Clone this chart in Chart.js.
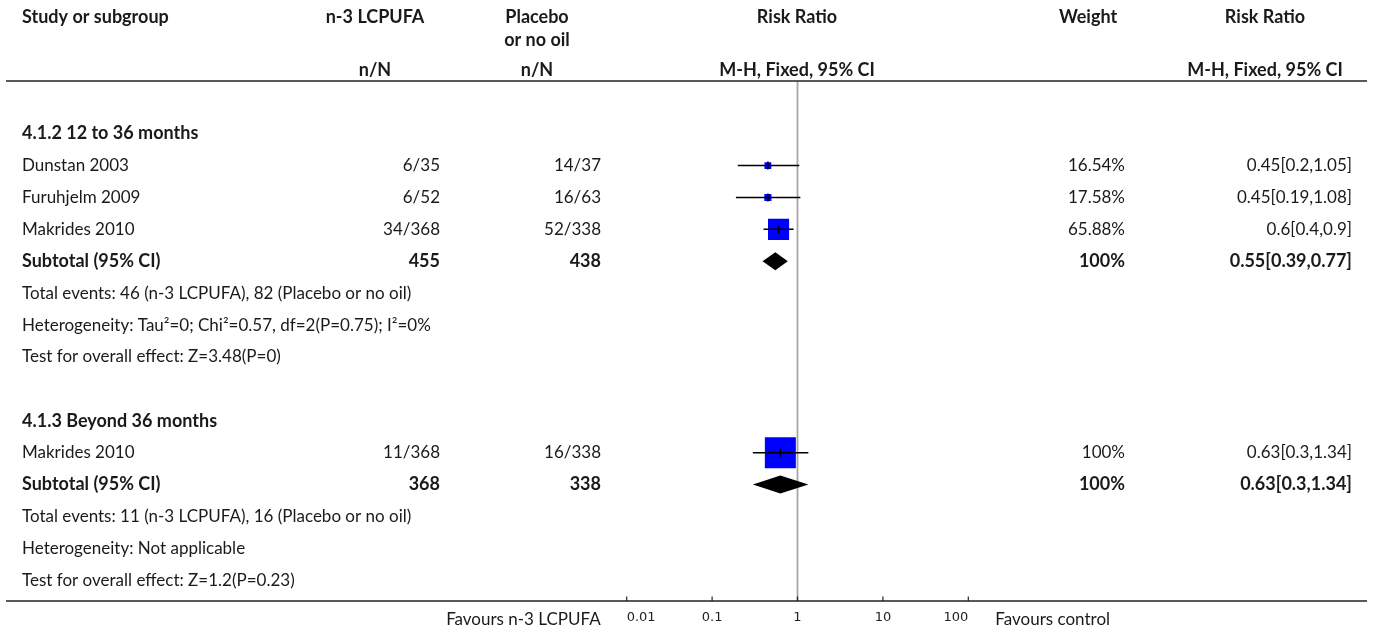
<!DOCTYPE html>
<html>
<head>
<meta charset="utf-8">
<title>n-3 LCPUFA vs placebo — Risk Ratio</title>
<script src="https://cdn.jsdelivr.net/npm/chart.js@4.4.1/dist/chart.umd.min.js"></script>
<style>
  html, body { margin: 0; padding: 0; background: #ffffff; }
  #wrap { width: 1375px; height: 633px; }
</style>
</head>
<body>
<div id="wrap"><canvas id="forest" width="1375" height="633"></canvas></div>
<script>
// ---- data ----
const groupTitles = ['4.1.2 12 to 36 months', '4.1.3 Beyond 36 months'];

const studyNames   = ['Dunstan 2003', 'Furuhjelm 2009', 'Makrides 2010', 'Makrides 2010'];
const studyGroup   = [0, 0, 0, 1];
const expEvents    = [6, 6, 34, 11];
const expTotal     = [35, 52, 368, 368];
const ctrlEvents   = [14, 16, 52, 16];
const ctrlTotal    = [37, 63, 338, 338];
const studyRR      = [0.45, 0.45, 0.6, 0.63];
const studyLow     = [0.2, 0.19, 0.4, 0.3];
const studyHigh    = [1.05, 1.08, 0.9, 1.34];
const studyWeight  = [16.54, 17.58, 65.88, 100];

const subExpTotal  = [455, 368];
const subCtrlTotal = [438, 338];
const subRR        = [0.55, 0.63];
const subLow       = [0.39, 0.3];
const subHigh      = [0.77, 1.34];
const subWeight    = [100, 100];

const totalEventsText   = ['Total events: 46 (n-3 LCPUFA), 82 (Placebo or no oil)',
                           'Total events: 11 (n-3 LCPUFA), 16 (Placebo or no oil)'];
const heterogeneityText = ['Heterogeneity: Tau\u00B2=0; Chi\u00B2=0.57, df=2(P=0.75); I\u00B2=0%',
                           'Heterogeneity: Not applicable'];
const overallEffectText = ['Test for overall effect: Z=3.48(P=0)',
                           'Test for overall effect: Z=1.2(P=0.23)'];

const tickValues = [0.01, 0.1, 1, 10, 100];
const tickLabels = ['0.01', '0.1', '1', '10', '100'];
const favoursLeft  = 'Favours n-3 LCPUFA';
const favoursRight = 'Favours control';

// ---- row layout (one row per line of the table) ----
const rows = [];
let r = 0;
for (let g = 0; g < groupTitles.length; g++) {
  rows.push({ kind: 'group', g, row: r++ });
  studyNames.forEach((name, i) => {
    if (studyGroup[i] === g) rows.push({ kind: 'study', i, row: r++ });
  });
  rows.push({ kind: 'subtotal', g, row: r++ });
  rows.push({ kind: 'note', text: totalEventsText[g], row: r++ });
  rows.push({ kind: 'note', text: heterogeneityText[g], row: r++ });
  rows.push({ kind: 'note', text: overallEffectText[g], row: r++ });
  r++; // spacer
}
const studyRow = studyNames.map((_, i) => rows.find(o => o.kind === 'study' && o.i === i).row);
const subRow = groupTitles.map((_, g) => rows.find(o => o.kind === 'subtotal' && o.g === g).row);

const fmtPct = w => w + '%';
const fmtCI = (e, lo, hi) => e + '[' + lo + ',' + hi + ']';

// ---- styling ----
const FONT = 'Lato, "Noto Sans", sans-serif';
const SIZE = 17, BOLD_SIZE = 18;
const TEXT = '#1a1a1a';
const COL = { name: 22, exp: 440, expHead: 375, ctrl: 601, ctrlHead: 537,
              plot: 797, weight: 1125, weightHead: 1088, ci: 1352, ciHead: 1265 };
const LINE_L = 6, LINE_R = 1367;
const AXIS_HEIGHT = 32;
const boxSide = w => 2 + 0.29 * w;   // square side in px, grows with weight

const ciDatasets = studyNames.map((_, i) => ({
  type: 'line',
  label: 'ci' + i,
  data: [{ x: studyLow[i], y: studyRow[i] }, { x: studyHigh[i], y: studyRow[i] }],
  borderColor: '#000000',
  borderWidth: 1.5,
  pointRadius: 0,
  showLine: true,
  order: 1
}));

const config = {
  type: 'scatter',
  data: {
    datasets: [
      {
        label: 'estimate',
        data: studyNames.map((_, i) => ({ x: studyRR[i], y: studyRow[i] })),
        pointStyle: 'line',
        rotation: 90,
        pointRadius: 4,
        pointHoverRadius: 4,
        borderColor: '#000000',
        borderWidth: 1.5,
        order: 0
      },
      ...ciDatasets,
      {
        label: 'weight',
        data: studyNames.map((_, i) => ({ x: studyRR[i], y: studyRow[i] })),
        pointStyle: 'rect',
        pointRadius: studyWeight.map(w => boxSide(w) / Math.SQRT2),
        pointHoverRadius: studyWeight.map(w => boxSide(w) / Math.SQRT2),
        backgroundColor: '#0000ff',
        borderWidth: 0,
        pointBorderWidth: 0,
        order: 2
      }
    ]
  },
  options: {
    responsive: false,
    animation: false,
    events: [],
    layout: { padding: { left: 626.7, right: 406.7, top: 81, bottom: 0 } },
    plugins: { legend: { display: false }, tooltip: { enabled: false } },
    scales: {
      x: {
        type: 'logarithmic',
        min: tickValues[0],
        max: tickValues[tickValues.length - 1],
        afterBuildTicks: axis => { axis.ticks = tickValues.map(v => ({ value: v })); },
        afterFit: axis => { axis.height = AXIS_HEIGHT; },
        ticks: {
          align: 'inner',
          autoSkip: false,
          maxRotation: 0,
          padding: 9,
          color: '#222222',
          font: { family: '"DejaVu Sans", sans-serif', size: 13 },
          callback: (v) => { const k = tickValues.indexOf(v); return k >= 0 ? tickLabels[k] : ''; }
        },
        grid: { display: false, drawTicks: false },
        border: { display: false }
      },
      y: {
        type: 'linear',
        reverse: true,
        min: -1.65,
        max: 14.65,
        display: false
      }
    }
  },
  plugins: [{
    id: 'forestTable',
    beforeDatasetsDraw(chart) {
      const ctx = chart.ctx;
      const xs = chart.scales.x, area = chart.chartArea;
      ctx.save();
      // line of no effect
      ctx.strokeStyle = '#a6a6a6';
      ctx.lineWidth = 1.8;
      const x1 = xs.getPixelForValue(1);
      ctx.beginPath();
      ctx.moveTo(x1, area.top);
      ctx.lineTo(x1, area.bottom);
      ctx.stroke();
      ctx.restore();
    },
    afterDatasetsDraw(chart) {
      const ctx = chart.ctx;
      const xs = chart.scales.x, ys = chart.scales.y, area = chart.chartArea;
      ctx.save();

      // rules under the header and along the axis
      ctx.strokeStyle = '#222222';
      ctx.lineWidth = 1.6;
      [area.top, area.bottom].forEach(y => {
        ctx.beginPath();
        ctx.moveTo(LINE_L, y);
        ctx.lineTo(LINE_R, y);
        ctx.stroke();
      });
      // axis tick marks
      ctx.lineWidth = 1.2;
      tickValues.forEach(v => {
        const x = xs.getPixelForValue(v);
        ctx.beginPath();
        ctx.moveTo(x, area.bottom);
        ctx.lineTo(x, area.bottom - 4.5);
        ctx.stroke();
      });

      // pooled estimates
      ctx.fillStyle = '#000000';
      subRR.forEach((v, g) => {
        const y = ys.getPixelForValue(subRow[g]);
        const xl = xs.getPixelForValue(subLow[g]);
        const xr = xs.getPixelForValue(subHigh[g]);
        const xm = xs.getPixelForValue(v);
        ctx.beginPath();
        ctx.moveTo(xl, y);
        ctx.lineTo(xm, y - 9);
        ctx.lineTo(xr, y);
        ctx.lineTo(xm, y + 9);
        ctx.closePath();
        ctx.fill();
      });

      const text = (s, x, y, align, bold) => {
        ctx.font = (bold ? 'bold ' + BOLD_SIZE : SIZE) + 'px ' + FONT;
        ctx.textAlign = align;
        ctx.textBaseline = 'middle';
        ctx.fillStyle = TEXT;
        ctx.fillText(s, x, y);
      };

      // column headers
      text('Study or subgroup', COL.name, 17, 'left', true);
      text('n-3 LCPUFA', COL.expHead, 17, 'center', true);
      text('Placebo', COL.ctrlHead, 17, 'center', true);
      text('or no oil', COL.ctrlHead, 40, 'center', true);
      text('Risk Ratio', COL.plot, 17, 'center', true);
      text('Weight', COL.weightHead, 17, 'center', true);
      text('Risk Ratio', COL.ciHead, 17, 'center', true);
      text('n/N', COL.expHead, 70, 'center', true);
      text('n/N', COL.ctrlHead, 70, 'center', true);
      text('M-H, Fixed, 95% CI', COL.plot, 70, 'center', true);
      text('M-H, Fixed, 95% CI', COL.ciHead, 70, 'center', true);

      // body rows
      rows.forEach(o => {
        const y = ys.getPixelForValue(o.row);
        if (o.kind === 'group') {
          text(groupTitles[o.g], COL.name, y, 'left', true);
        } else if (o.kind === 'study') {
          const i = o.i;
          text(studyNames[i], COL.name, y, 'left', false);
          text(expEvents[i] + '/' + expTotal[i], COL.exp, y, 'right', false);
          text(ctrlEvents[i] + '/' + ctrlTotal[i], COL.ctrl, y, 'right', false);
          text(fmtPct(studyWeight[i]), COL.weight, y, 'right', false);
          text(fmtCI(studyRR[i], studyLow[i], studyHigh[i]), COL.ci, y, 'right', false);
        } else if (o.kind === 'subtotal') {
          const g = o.g;
          text('Subtotal (95% CI)', COL.name, y, 'left', true);
          text(String(subExpTotal[g]), COL.exp, y, 'right', true);
          text(String(subCtrlTotal[g]), COL.ctrl, y, 'right', true);
          text(fmtPct(subWeight[g]), COL.weight, y, 'right', true);
          text(fmtCI(subRR[g], subLow[g], subHigh[g]), COL.ci, y, 'right', true);
        } else if (o.kind === 'note') {
          text(o.text, COL.name, y, 'left', false);
        }
      });

      // favours labels beside the axis
      const fy = area.bottom + 19;
      text(favoursLeft, xs.left - 26, fy, 'right', false);
      text(favoursRight, xs.right + 27, fy, 'left', false);

      ctx.restore();
    }
  }]
};

new Chart(document.getElementById('forest'), config);
</script>
</body>
</html>
